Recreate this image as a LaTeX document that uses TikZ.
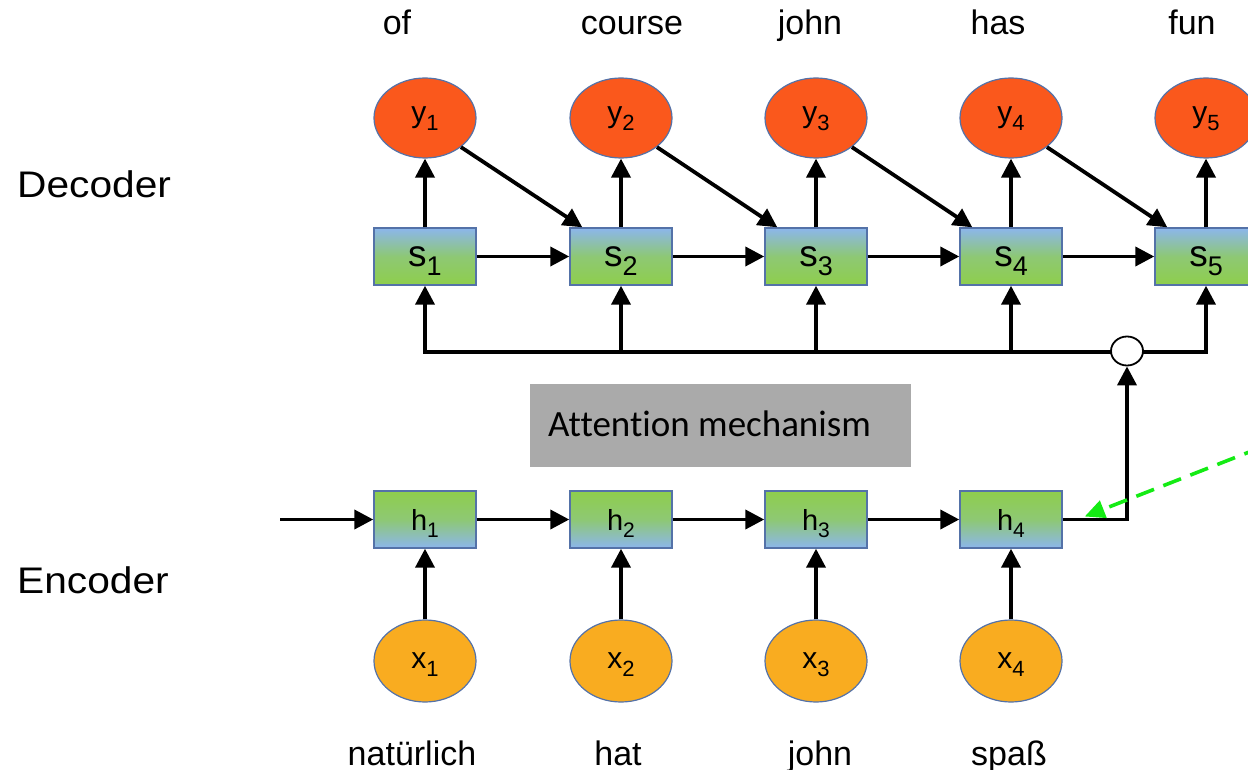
\documentclass[tikz,border=0pt]{standalone}
\usepackage{fontspec}
\setmainfont{Liberation Sans}
\newfontfamily\calibrifont[Ligatures=NoCommon]{Carlito}
\usetikzlibrary{arrows.meta,shapes.geometric,calc}

\definecolor{yred}{RGB}{250,88,28}
\definecolor{xorange}{RGB}{249,172,32}
\definecolor{cellblue}{RGB}{140,182,236}
\definecolor{cellgreen}{RGB}{142,206,76}
\definecolor{celledge}{RGB}{84,114,168}
\definecolor{attgray}{RGB}{170,170,170}
\definecolor{hintgreen}{RGB}{20,235,20}

% letter with a lowered, smaller index
\newcommand\sublabel[4]{\fontsize{#3}{#3}\selectfont #1\raisebox{-0.25em}[0pt][0pt]{\fontsize{#4}{#4}\selectfont #2}}

\begin{document}
\begin{tikzpicture}[x=1pt,y=-1pt,
  arr/.style={line width=3.8pt,-{Triangle[length=19pt,width=19pt]}},
  bus/.style={line width=3.8pt,line cap=rect},
  outnode/.style={ellipse,draw=celledge,line width=1.2pt,fill=yred,
    minimum width=102pt,minimum height=80pt,inner sep=0pt},
  innode/.style={ellipse,draw=celledge,line width=1.2pt,fill=xorange,
    minimum width=102pt,minimum height=82pt,inner sep=0pt},
  decbox/.style={rectangle,draw=celledge,line width=1.4pt,
    top color=cellblue,bottom color=cellgreen,middle color=cellgreen!75!cellblue,
    minimum width=102pt,minimum height=57pt,inner sep=0pt},
  encbox/.style={rectangle,draw=celledge,line width=1.4pt,
    top color=cellgreen,bottom color=cellblue,middle color=cellgreen!75!cellblue,
    minimum width=102pt,minimum height=57pt,inner sep=0pt},
  word/.style={anchor=base,inner sep=0pt,font=\fontsize{34}{34}\selectfont},
  side/.style={anchor=base west,inner sep=0pt,font=\fontsize{37}{37}\selectfont},
]
\useasboundingbox (0,0) rectangle (1248,770);
\clip (0,0) rectangle (1248,770);

% side captions
\node[side] (dec) at (17,198) {\scalebox{1.1}[1]{Decoder}};
\node[side] (enc) at (17,593) {\scalebox{1.1}[1]{Encoder}};

% output words
\node[word] (o1) at (397,35) {of};
\node[word] (o2) at (632,35) {course};
\node[word] (o3) at (810,35) {john};
\node[word] (o4) at (998,35) {has};
\node[word] (o5) at (1192,35) {fun};

% input words
\node[word] (i1) at (412,765) {natürlich};
\node[word] (i2) at (618,765) {hat};
\node[word] (i3) at (820,765) {john};
\node[word] (i4) at (1009,765) {spaß};

% decoder outputs and states
\foreach \i/\x in {1/425,2/621,3/816,4/1011,5/1206}{
  \node[outnode] (y\i) at (\x,118) {\sublabel{y}{\i}{30}{22}};
  \node[decbox] (s\i) at (\x,256.5) {\sublabel{s}{\i}{37}{27}};
  \coordinate (b\i) at (\x,352);
}

% encoder states and inputs
\foreach \i/\x in {1/425,2/621,3/816,4/1011}{
  \node[encbox] (h\i) at (\x,519.5) {\sublabel{h}{\i}{29}{21}};
  \node[innode] (x\i) at (\x,661) {\sublabel{x}{\i}{30}{22}};
}

% attention box
\node[fill=attgray,minimum width=381pt,minimum height=83pt,inner sep=0pt,
  anchor=north west] (att) at (530,384) {};
\node[anchor=base west,inner sep=0pt,font=\calibrifont\fontsize{37}{37}\selectfont]
  (attlbl) at (548,436) {Attention mechanism};

% decoder connections
\foreach \i in {1,...,5}{
  \draw[arr] (s\i) -- (y\i);
  \draw[arr] (b\i) -- (s\i);
}
\foreach \i/\j in {1/2,2/3,3/4,4/5}{
  \draw[arr] (s\i) -- (s\j);
  \draw[arr] (y\i.-39) -- ([xshift=13pt]s\j.north west);
}

% context bus with the combining node
\draw[bus] (b1) -- (b5);
\node[ellipse,draw,fill=white,line width=1.8pt,minimum width=32pt,
  minimum height=29pt,inner sep=0pt] (mix) at (1127,351) {};

% encoder connections
\coordinate (src) at (280,519.5);
\draw[arr] (src) -- (h1);
\foreach \i/\j in {1/2,2/3,3/4}{
  \draw[arr] (h\i) -- (h\j);
}
\foreach \i in {1,...,4}{
  \draw[arr] (x\i) -- (h\i);
}
\draw[arr] (h4.east) -| (mix.south);

% dashed pointer to the last encoder state
\coordinate (hint) at (1262,447);
\draw[hintgreen,line width=3.6pt,dash pattern=on 19pt off 10pt,
  -{Triangle[length=20pt,width=18pt]}] (hint) -- ([shift={(22,-3)}]h4.east);
\end{tikzpicture}
\end{document}
